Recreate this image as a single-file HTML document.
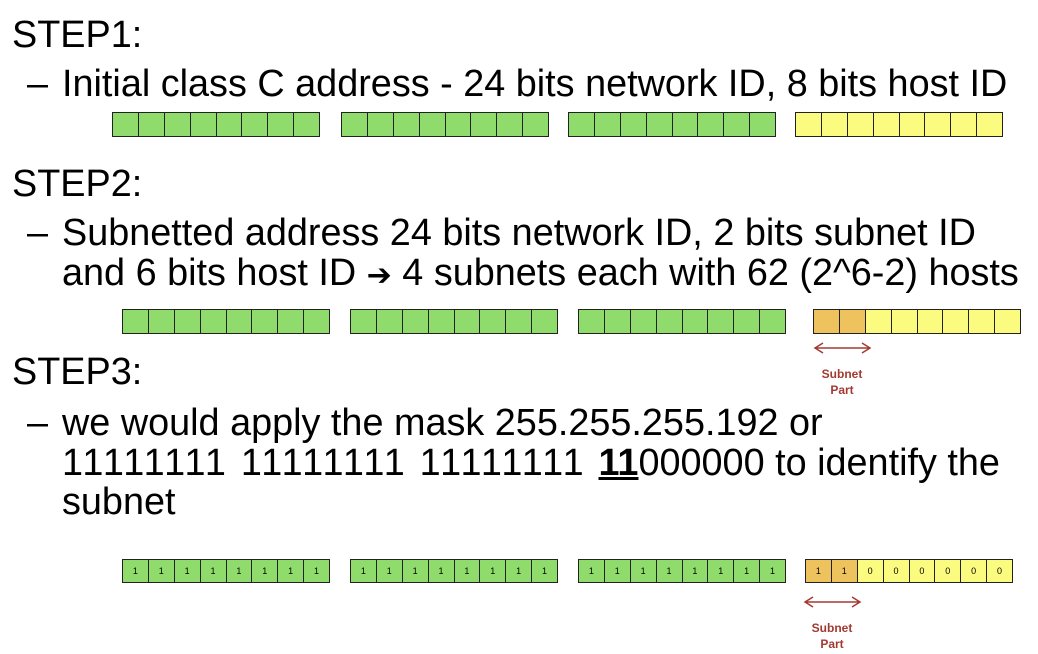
<!DOCTYPE html>
<html><head><meta charset="utf-8"><style>
body{margin:0;width:1038px;height:654px;background:#fff;position:relative;overflow:hidden;font-family:"Liberation Sans",Arial,sans-serif;color:#000}
.t{position:absolute;font-size:37.8px;line-height:40px;white-space:nowrap}
.g{position:absolute;display:flex;border:1.5px solid #222;box-sizing:border-box}
.g div{flex:1;border-right:1.5px solid #222;font-size:9px;display:flex;align-items:center;justify-content:center}
.g div:last-child{border-right:none}
.gr{background:#8fdc6c}.ye{background:#fbfb80}.or{background:#eec25c}
.lbl{position:absolute;color:#a33a32;font-weight:bold;font-size:12px;line-height:16px;text-align:center;width:60px}
</style></head><body>
<div class="t" style="left:12px;top:15px">STEP1:</div>
<div class="t" style="left:27px;top:64px">–</div>
<div class="t" style="left:62px;top:64px">Initial class C address - 24 bits network ID, 8 bits host ID</div>
<div class="t" style="left:12px;top:164px">STEP2:</div>
<div class="t" style="left:27px;top:213px">–</div>
<div class="t" style="left:62px;top:213px">Subnetted address 24 bits network ID, 2 bits subnet ID</div>
<div class="t" style="left:62px;top:253px">and 6 bits host ID <span style="font-family:'DejaVu Sans';font-size:30px">➔</span> 4 subnets each with 62 (2^6-2) hosts</div>
<div class="t" style="left:12px;top:352px">STEP3:</div>
<div class="t" style="left:27px;top:403px">–</div>
<div class="t" style="left:62px;top:403px">we would apply the mask 255.255.255.192 or</div>
<div class="t" style="left:62px;top:443px"><span style="letter-spacing:2.2px">11111111 11111111 11111111 </span><b><u>11</u></b>000000 to identify the</div>
<div class="t" style="left:62px;top:482px">subnet</div>
<div id="rows"></div>
<svg style="position:absolute;left:0;top:0" width="1038" height="654">
<g stroke="#a33a32" stroke-width="1.5" fill="none">
<path d="M815 348H870M823 343L815 348L823 353M862 343L870 348L862 353"/>
<path d="M805 602H860M813 597L805 602L813 607M852 597L860 602L852 607"/>
</g></svg>
<div class="lbl" style="left:812px;top:366px">Subnet<br>Part</div>
<div class="lbl" style="left:802px;top:620px">Subnet<br>Part</div>
<script>
function row(y,h,xs,last,vals){
 let html='';
 xs.forEach((x,i)=>{
  html+=`<div class="g" style="left:${x}px;top:${y}px;width:208px;height:${h}px">`;
  for(let k=0;k<8;k++){
   let c=i<3?'gr':(last&&k<2?'or':'ye');
   let v=vals?(i<3||k<2?'1':'0'):'';
   html+=`<div class="${c}">${v}</div>`;
  }
  html+='</div>';
 });
 document.getElementById('rows').insertAdjacentHTML('beforeend',html);
}
row(112,25,[112,341,568,795],false,false);
row(309,25,[122,350,578,813],true,false);
row(559,24,[122,350,578,805],true,true);
</script>
</body></html>
